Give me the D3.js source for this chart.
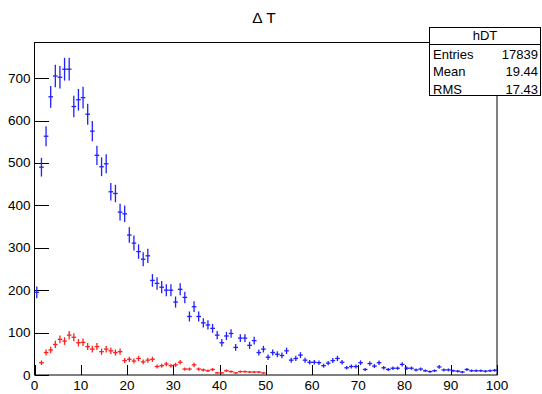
<!DOCTYPE html>
<html><head><meta charset="utf-8">
<script src="https://cdn.jsdelivr.net/npm/d3@7"></script>
<style>
body{margin:0;background:#fff;}
text{font-family:"Liberation Sans",Arial,sans-serif;}
</style></head>
<body><svg id="c" width="542" height="394"></svg>
<script>
const blueCounts = [195,490,563,656,705,702,721,721,633,649,
654,615,575,518,491,498,432,428,384,380,
330,311,291,273,281,223,216,207,200,200,
172,202,183,138,161,138,123,118,110,94,
76,92,98,65,87,87,70,81,53,61,
42,53,49,46,57,35,39,47,35,30,
30,29,22,28,34,39,30,17,20,20,
29,13,27,21,29,17,13,16,16,25,
16,16,12,14,10,8,10,19,12,12,
10,9,7,13,10,10,10,9,10,11];
const redCounts = [0,29,53,59,72,84,80,94,89,76,
77,67,61,67,55,61,57,53,55,34,
37,33,39,31,35,37,20,22,26,22,
24,30,14,14,24,14,12,10,13,5,
5,10,8,5,8,8,7,7,7,5,
0,0,0,0,0,0,0,0,0,0,
0,0,0,0,0,0,0,0,0,0,
0,0,0,0,0,0,0,0,0,0,
0,0,0,0,0,0,0,0,0,0,
0,0,0,0,0,0,0,0,0,0];
const xTicks = [0,10,20,30,40,50,60,70,80,90,100];
const yTicks = [0,100,200,300,400,500,600,700];
const statsRows = [["Entries","17839"],["Mean","19.44"],["RMS","17.43"]];
const histName = "hDT";
const titleText = "\u0394 T";

const svg = d3.select("#c");
const L=34.5, R=497, T=42.5, B=375;
const x = d3.scaleLinear().domain([0,100]).range([L,R]);
const y = d3.scaleLinear().domain([0,784]).range([B,T]);

// frame
svg.append("rect").attr("x",L).attr("y",T).attr("width",R-L).attr("height",B-T)
  .attr("fill","none").attr("stroke","#000").attr("stroke-width",1);

// y axis minor & major
const gy = svg.append("g").attr("transform",`translate(${L},0)`);
gy.call(d3.axisRight(y).tickValues(d3.range(0,781,20)).tickSize(7).tickFormat(""))
  .call(g=>g.select(".domain").remove());
gy.call(d3.axisRight(y).tickValues(yTicks).tickSize(14).tickFormat(""))
  .call(g=>g.select(".domain").remove());
svg.append("g").selectAll("text").data(yTicks).join("text")
  .attr("x",L-4).attr("y",d=>y(d)+4.5).attr("text-anchor","end")
  .attr("font-size",13.5).text(d=>d);

// x axis
const gx = svg.append("g").attr("transform",`translate(0,${B})`);
gx.call(d3.axisTop(x).tickValues(d3.range(0,101,2)).tickSize(5).tickFormat(""))
  .call(g=>g.select(".domain").remove());
gx.call(d3.axisTop(x).tickValues(xTicks).tickSize(10).tickFormat(""))
  .call(g=>g.select(".domain").remove());
svg.append("g").selectAll("text").data(xTicks).join("text")
  .attr("x",d=>x(d)).attr("y",B+14.5).attr("text-anchor","middle")
  .attr("font-size",13.5).text(d=>d);
svg.selectAll(".tick line").attr("stroke","#000").attr("shape-rendering","crispEdges");

function drawHist(data,color){
  const g = svg.append("g").attr("stroke",color).attr("stroke-width",1.3);
  const pts = data.map((v,i)=>({i,v})).filter(d=>d.v>0);
  g.selectAll("line.h").data(pts).join("line").attr("class","h")
    .attr("x1",d=>x(d.i)).attr("x2",d=>x(d.i+1))
    .attr("y1",d=>y(d.v)).attr("y2",d=>y(d.v));
  g.selectAll("line.v").data(pts).join("line").attr("class","v")
    .attr("x1",d=>x(d.i+0.5)).attr("x2",d=>x(d.i+0.5))
    .attr("y1",d=>y(d.v-Math.sqrt(d.v))).attr("y2",d=>y(d.v+Math.sqrt(d.v)));
}
drawHist(blueCounts,"#2020ff");
drawHist(redCounts,"#ff2020");

// title
svg.append("text").attr("x",264).attr("y",23).attr("text-anchor","middle")
  .attr("font-size",15.5).text(titleText);

// stats box
const sb = svg.append("g");
const bx=429.5, by=27.5, bw=111, bh=68;
sb.append("rect").attr("x",bx).attr("y",by).attr("width",bw).attr("height",bh)
  .attr("fill","#fff").attr("stroke","#000");
sb.append("line").attr("x1",bx).attr("x2",bx+bw).attr("y1",44.5).attr("y2",44.5).attr("stroke","#000");
sb.append("text").attr("x",bx+bw/2).attr("y",40).attr("text-anchor","middle").attr("font-size",13).text(histName);
statsRows.forEach((r,i)=>{
  const yy = 58.5 + i*17.5;
  sb.append("text").attr("x",433).attr("y",yy).attr("font-size",13).text(r[0]);
  sb.append("text").attr("x",538).attr("y",yy).attr("text-anchor","end").attr("font-size",13).text(r[1]);
});
</script></body></html>
